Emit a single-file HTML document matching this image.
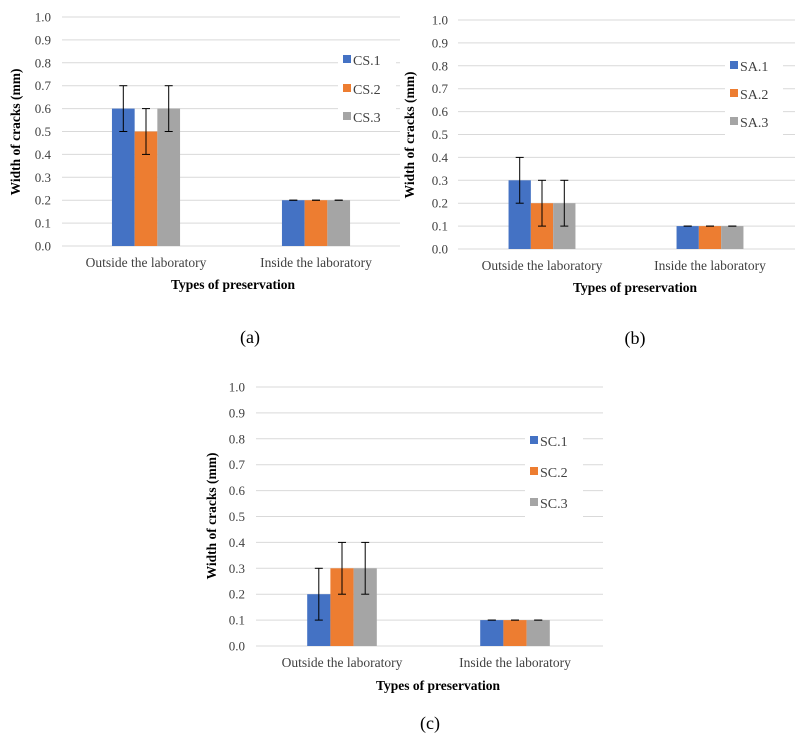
<!DOCTYPE html>
<html><head><meta charset="utf-8">
<style>
body{margin:0;background:#fff;width:805px;height:740px;overflow:hidden}
svg{font-family:"Liberation Serif",serif}
</style></head>
<body>
<svg id="fig" width="805" height="740" viewBox="0 0 805 740"></svg>
<script>
const categories = ["Outside the laboratory", "Inside the laboratory"];
const yTicks = [0.0,0.1,0.2,0.3,0.4,0.5,0.6,0.7,0.8,0.9,1.0];
const seriesNamesA = ["CS.1","CS.2","CS.3"];
const valuesA = [[0.6,0.2],[0.5,0.2],[0.6,0.2]];
const errorsA = [[0.1,0],[0.1,0],[0.1,0]];
const seriesNamesB = ["SA.1","SA.2","SA.3"];
const valuesB = [[0.3,0.1],[0.2,0.1],[0.2,0.1]];
const errorsB = [[0.1,0],[0.1,0],[0.1,0]];
const seriesNamesC = ["SC.1","SC.2","SC.3"];
const valuesC = [[0.2,0.1],[0.3,0.1],[0.3,0.1]];
const errorsC = [[0.1,0],[0.1,0],[0.1,0]];
const colors = ["#4472c4","#ed7d31","#a5a5a5"];

const NS="http://www.w3.org/2000/svg";
const svg=document.getElementById('fig');
function mk(tag,attrs,parent,text){const e=document.createElementNS(NS,tag);for(const k in attrs)e.setAttribute(k,attrs[k]);if(text!==undefined)e.textContent=text;parent.appendChild(e);return e;}

function drawChart(id,L,names,vals,errs){
  const g=mk('g',{},svg);
  
  
  const y=v=>L.y0-(L.y0-L.y1)*v/1.0;
  yTicks.forEach(t=>{
    const ln=mk('line',{x1:L.xl,x2:L.xr,y1:y(t),y2:y(t),stroke:'#d9d9d9','stroke-width':1},g);
    
    
    const tx=mk('text',{x:L.tickX,y:y(t)+4.5,'text-anchor':'end','font-size':13,fill:'#404040'},g,t.toFixed(1));
    
    
  });
  const lb=mk('rect',{x:L.legX-5,y:L.legY[0]-14,width:58,height:L.legY[2]-L.legY[0]+28,fill:'#fff'},g);
  
  
  const bw=L.bw;
  categories.forEach((c,ci)=>{
    const cx=L.cat[ci];
    names.forEach((n,si)=>{
      const bx=cx-1.5*bw+si*bw;
      const v=vals[si][ci];
      const r=mk('rect',{x:bx,y:y(v),width:bw,height:L.y0-y(v),fill:colors[si]},g);
      
      
      const e=errs[si][ci];
      const mx=bx+bw/2;
      const eg=mk('g',{stroke:'#000','stroke-width':1},g);
      
      
      mk('line',{x1:mx,x2:mx,y1:y(v+e),y2:y(v-e)},eg);
      mk('line',{x1:mx-4,x2:mx+4,y1:y(v+e),y2:y(v+e)},eg);
      mk('line',{x1:mx-4,x2:mx+4,y1:y(v-e),y2:y(v-e)},eg);
    });
    const lt=mk('text',{x:cx,y:L.y0+21,'text-anchor':'middle','font-size':13.5,fill:'#404040'},g,c);
    
    
  });
  names.forEach((n,si)=>{
    const sq=mk('rect',{x:L.legX,y:L.legY[si]-5,width:8,height:8,fill:colors[si]},g);
    
    
    const t=mk('text',{x:L.legX+10,y:L.legY[si]+5,'font-size':14,fill:'#404040'},g,n);
    
    
  });
  const xt=mk('text',{x:L.titleX,y:L.titleY,'text-anchor':'middle','font-size':13.5,'font-weight':'bold',fill:'#000'},g,'Types of preservation');
  
  
  const yt=mk('text',{x:0,y:0,'text-anchor':'middle','font-size':13.5,'font-weight':'bold',fill:'#000',transform:`translate(${L.ytX},${L.ytY}) rotate(-90)`},g,'Width  of cracks  (mm)');
  
  
  const pl=mk('text',{x:L.panX,y:L.panY,'text-anchor':'middle','font-size':18,fill:'#000'},g,'('+id+')');
  
  
}

drawChart('a',{y0:246,y1:17,xl:62,xr:400,tickX:51,bw:22.7,cat:[146,316],legX:343,legY:[60,89,117],titleX:233,titleY:289,ytX:20,ytY:132,panX:250,panY:343},seriesNamesA,valuesA,errorsA);
drawChart('b',{y0:249,y1:20,xl:458,xr:795,tickX:448,bw:22.3,cat:[542,710],legX:730,legY:[66,94,122],titleX:635,titleY:292,ytX:414,ytY:135,panX:635,panY:344},seriesNamesB,valuesB,errorsB);
drawChart('c',{y0:646,y1:387,xl:256,xr:603,tickX:245,bw:23.2,cat:[342,515],legX:530,legY:[441,472,503],titleX:438,titleY:690,ytX:216,ytY:516,panX:430,panY:729},seriesNamesC,valuesC,errorsC);
</script>
</body></html>
